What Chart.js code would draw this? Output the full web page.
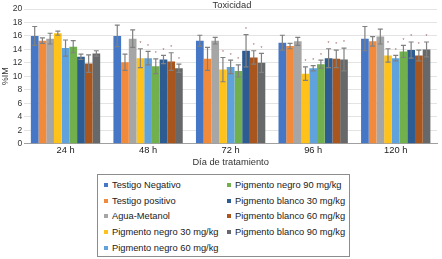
<!DOCTYPE html>
<html>
<head>
<meta charset="utf-8">
<script src="https://cdn.jsdelivr.net/npm/chart.js@4.4.1/dist/chart.umd.min.js"></script>
<style>
  html, body { margin: 0; padding: 0; background: #fff; }
  body { width: 442px; height: 259px; position: relative; overflow: hidden; font-family: "Liberation Sans", Arial, sans-serif; }
  #wrap { position: absolute; left: 0; top: 0; width: 442px; height: 168px; }
  #titulo { position: absolute; left: 0; top: 0; width: 442px; text-align: center; font-size: 9.3px; color: #333; line-height: 11px; padding-left: 22px; box-sizing: border-box; }
  #leyenda {
    position: absolute; left: 97px; top: 174px;
    border: 1px solid #8c8c8c;
    display: grid; grid-template-rows: repeat(5, 15.8px); grid-template-columns: 123px 126px;
    grid-auto-flow: column; padding-top: 2px; padding-left: 6px; box-sizing: border-box;
    width: 253px; height: 83px;
  }
  .item { display: flex; align-items: center; font-size: 9.3px; color: #1a1a1a; white-space: nowrap; }
  .item span.sw { width: 4px; height: 4px; margin-right: 4px; flex: none; }
</style>
</head>
<body>
<div id="wrap"><canvas id="toxicidad"></canvas></div>
<div id="titulo">Toxicidad</div>
<div id="leyenda"></div>
<script>
// Datos
const categorias = ['24 h', '48 h', '72 h', '96 h', '120 h'];
const series = ['Testigo Negativo', 'Testigo positivo', 'Agua-Metanol', 'Pigmento negro 30 mg/kg',
  'Pigmento negro 60 mg/kg', 'Pigmento negro 90 mg/kg', 'Pigmento blanco 30 mg/kg',
  'Pigmento blanco 60 mg/kg', 'Pigmento blanco 90 mg/kg'];
const colores = ['#4677c6', '#f28a3c', '#a6a6a6', '#ffc21a', '#5fa2dc', '#72b04d', '#2c5c91', '#a9561e', '#666869'];

const testigoNeg = [16.0, 16.0, 15.3, 15.0, 15.6];
const testigoPos = [15.3, 12.1, 12.6, 14.5, 15.2];
const aguaMetanol = [15.6, 15.6, 15.3, 15.2, 15.9];
const negro30 = [16.4, 12.7, 11.0, 10.4, 13.1];
const negro60 = [14.2, 12.7, 11.4, 11.2, 12.7];
const negro90 = [14.4, 11.5, 10.8, 11.8, 13.7];
const blanco30 = [12.9, 12.5, 13.8, 12.7, 13.9];
const blanco60 = [11.9, 12.2, 12.8, 12.6, 13.1];
const blanco90 = [13.4, 11.2, 12.0, 12.5, 14.0];

// Desviaciones (barras de error)
const errNeg = [1.4, 1.6, 0.8, 1.1, 1.8];
const errPos = [0.4, 1.2, 1.7, 0.4, 0.7];
const errAgua = [0.8, 1.3, 0.5, 0.6, 1.1];
const errN30 = [0.3, 1.4, 1.8, 1.0, 1.0];
const errN60 = [1.2, 1.0, 1.0, 0.4, 0.4];
const errN90 = [0.9, 1.1, 0.9, 0.6, 0.9];
const errB30 = [0.4, 0.6, 2.4, 1.4, 1.2];
const errB60 = [1.3, 1.3, 1.0, 1.3, 0.8];
const errB90 = [0.4, 0.6, 1.4, 1.7, 1.1];

// Diferencia significativa (*) por serie
const sigControl = [0, 0, 0, 0, 0];
const sigPigmento = [0, 1, 1, 1, 1];

const valores = [testigoNeg, testigoPos, aguaMetanol, negro30, negro60, negro90, blanco30, blanco60, blanco90];
const errores = [errNeg, errPos, errAgua, errN30, errN60, errN90, errB30, errB60, errB90];
const significativo = [sigControl, sigControl, sigControl, sigPigmento, sigPigmento, sigPigmento, sigPigmento, sigPigmento, sigPigmento];

const fuente = '"Liberation Sans", Arial, sans-serif';

// Plugin: barras de error y asteriscos
const barrasError = {
  id: 'barrasError',
  afterDatasetsDraw(chart) {
    const ctx = chart.ctx;
    const y = chart.scales.y;
    ctx.save();
    chart.data.datasets.forEach((ds, i) => {
      const meta = chart.getDatasetMeta(i);
      meta.data.forEach((bar, j) => {
        const v = ds.data[j];
        const e = errores[i][j];
        const yTop = y.getPixelForValue(v + e);
        const yBot = y.getPixelForValue(v - e);
        ctx.strokeStyle = '#808080';
        ctx.lineWidth = 1.2;
        ctx.beginPath();
        ctx.moveTo(bar.x, yTop); ctx.lineTo(bar.x, yBot);
        ctx.moveTo(bar.x - 2.5, yTop); ctx.lineTo(bar.x + 2.5, yTop);
        ctx.moveTo(bar.x - 2.5, yBot); ctx.lineTo(bar.x + 2.5, yBot);
        ctx.stroke();
        if (significativo[i][j]) {
          ctx.fillStyle = '#a06060';
          ctx.font = '5px ' + fuente;
          ctx.textAlign = 'center';
          ctx.textBaseline = 'middle';
          ctx.fillText('*', bar.x, yTop - 5);
        }
      });
    });
    ctx.restore();
  }
};

const datasets = series.map((nombre, i) => ({
  label: nombre,
  data: valores[i],
  backgroundColor: colores[i],
  borderWidth: 0,
  barPercentage: 1.0,
  categoryPercentage: 0.84
}));

new Chart(document.getElementById('toxicidad').getContext('2d'), {
  type: 'bar',
  data: { labels: categorias, datasets },
  plugins: [barrasError],
  options: {
    responsive: true,
    maintainAspectRatio: false,
    animation: false,
    layout: { padding: { left: 0, right: 5, top: 9, bottom: 0 } },
    scales: {
      y: {
        min: 0, max: 20,
        ticks: { stepSize: 2, autoSkip: false, color: '#333', font: { family: fuente, size: 8.5 }, padding: 2 },
        grid: { color: '#e3e3e3', drawTicks: false },
        border: { display: false },
        title: { display: true, text: '%IM', color: '#333', font: { family: fuente, size: 9 }, padding: 0 }
      },
      x: {
        ticks: { color: '#1a1a1a', font: { family: fuente, size: 9.3 }, padding: 1 },
        grid: { display: false, drawTicks: false },
        border: { color: '#a0a0a0' },
        title: { display: true, text: 'Día de tratamiento', color: '#333', font: { family: fuente, size: 9.3 }, padding: { top: 0, bottom: 0 } }
      }
    },
    plugins: {
      legend: { display: false },
      tooltip: { enabled: false }
    }
  }
});

// Leyenda HTML en dos columnas
const leyenda = document.getElementById('leyenda');
series.forEach((nombre, i) => {
  const d = document.createElement('div');
  d.className = 'item';
  d.innerHTML = '<span class="sw" style="background:' + colores[i] + '"></span>' + nombre;
  leyenda.appendChild(d);
});
</script>
</body>
</html>
